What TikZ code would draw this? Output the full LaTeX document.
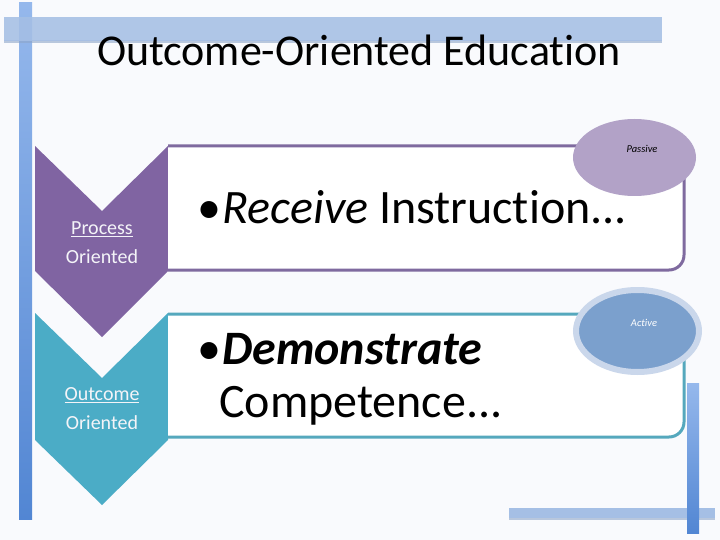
\documentclass[tikz,border=0pt]{standalone}
\usepackage{fontspec}
\setmainfont{Carlito}[Ligatures={NoCommon,NoContextual}]
\usetikzlibrary{shapes.geometric}
\definecolor{bgc}{HTML}{F9FAFD}
\definecolor{hbar}{HTML}{A5BFE5}
\definecolor{hbarsh}{HTML}{8EA6C9}
\definecolor{vtop}{HTML}{95B8EC}
\definecolor{vbot}{HTML}{5286D3}
\definecolor{purp}{HTML}{8064A2}
\definecolor{purpline}{HTML}{7F6A9F}
\definecolor{teal}{HTML}{4BACC6}
\definecolor{tealline}{HTML}{55A8BD}
\definecolor{passivec}{HTML}{B2A2C7}
\definecolor{activec}{HTML}{7BA0CD}
\definecolor{activering}{HTML}{CAD7EB}
\definecolor{chevtext}{HTML}{F4F4F8}
\tikzset{
  hbarstyle/.style={fill=hbar, fill opacity=0.88},
  chevp/.style={fill=purp},
  chevt/.style={fill=teal},
  boxp/.style={draw=purpline, line width=3pt, fill=white},
  boxt/.style={draw=tealline, line width=3pt, fill=white},
  chevlabel/.style={text=chevtext, font=\fontsize{20}{29}\selectfont, align=center, inner sep=0pt},
  bigtext/.style={font=\fontsize{48}{54}\selectfont, anchor=base west, inner sep=0pt},
  tag/.style={ellipse, inner sep=0pt},
  tagtext/.style={font=\fontsize{10.5}{12}\selectfont\itshape, inner sep=0pt}
}
\begin{document}
\begin{tikzpicture}[x=1pt,y=-1pt]
\useasboundingbox (0,0) rectangle (720,540);
\fill[bgc] (0,0) rectangle (720,540);
% left vertical bar
\shade[top color=vtop, bottom color=vbot] (19,3) rectangle (32,519);
% top horizontal bar
\fill[hbarsh, opacity=0.6] (4,40) rectangle (662,43);
\fill[hbarstyle] (4,17) rectangle (662,41);
% bottom horizontal bar
\fill[hbarsh, opacity=0.6] (509,517) rectangle (715,520);
\fill[hbar] (509,508) rectangle (715,518);
% right vertical bar
\shade[top color=vtop, bottom color=vbot] (687,383) rectangle (699,533);
% title
\node[font=\fontsize{44}{53}\selectfont, anchor=base, inner sep=0pt] (title) at (359,66) {Outcome-Oriented Education};
% chevrons
\fill[chevp] (35,146) -- (102,211) -- (168,146) -- (168,271) -- (102,337) -- (35,271) -- cycle;
\fill[chevt] (35,313) -- (102,378) -- (168,313) -- (168,440) -- (102,505) -- (35,440) -- cycle;
\node[chevlabel] (proc) at (102,243) {\underline{Process}\\Oriented};
\node[chevlabel] (outc) at (102,409) {\underline{Outcome}\\Oriented};
% boxes
\draw[boxp] (168,146) -- (669,146) .. controls (677.28,146) and (684,152.72) .. (684,161)
  -- (684,255) .. controls (684,263.28) and (677.28,270) .. (669,270) -- (168,270);
\draw[boxt] (168,314) -- (669,314) .. controls (677.28,314) and (684,320.72) .. (684,329)
  -- (684,422) .. controls (684,430.28) and (677.28,437) .. (669,437) -- (168,437);
\node[bigtext] (recv) at (197,224) {\makebox[25pt][l]{•}\textit{Receive} Instruction...};
\node[bigtext] (demo) at (197,364) {\makebox[25pt][l]{•}\textbf{\textit{Demonstrate}}};
\node[bigtext] (comp) at (219,417) {Competence...};
% tags
\node[tag, fill=passivec, minimum width=123pt, minimum height=77pt] (passive) at (634.5,157.5) {};
\node[tagtext] (passivet) at (642,149) {Passive};
\node[tag, fill=activec, draw=activering, line width=6pt, minimum width=123pt, minimum height=82pt] (active) at (637.5,331) {};
\node[tagtext, text=white] (activet) at (644,323) {Active};
\end{tikzpicture}
\end{document}
